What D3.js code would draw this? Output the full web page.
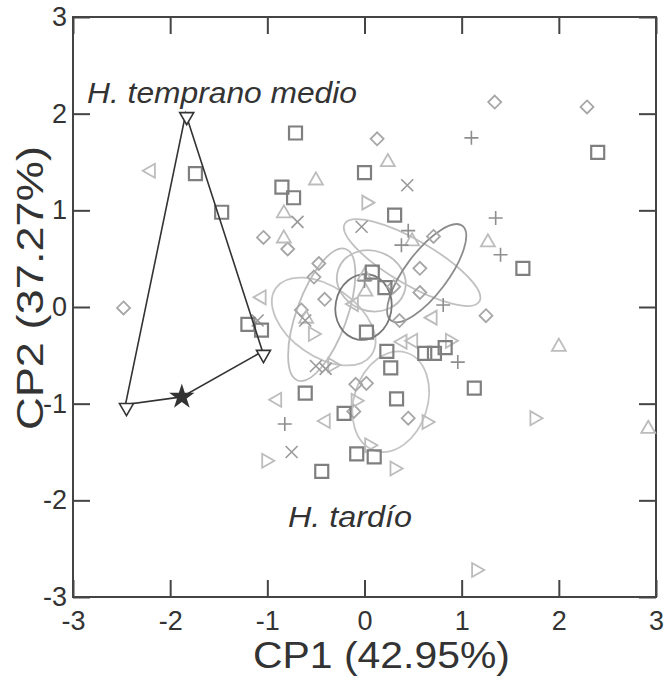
<!DOCTYPE html>
<html>
<head>
<meta charset="utf-8">
<script src="https://cdn.jsdelivr.net/npm/d3@7"></script>
<style>
  body { margin: 0; background: #fff; }
  text { font-family: "Liberation Sans", Arial, sans-serif; fill: #333; }
</style>
</head>
<body>
<div id="chart"></div>
<script>
// point groups, [CP1, CP2]
const squares = [[-0.71,1.80],[-1.74,1.38],[-1.47,0.98],[-0.85,1.24],[-0.73,1.13],[0.0,1.39],
  [0.31,0.95],[2.40,1.60],[1.63,0.40],[0.08,0.36],[0.21,0.20],[-1.20,-0.18],[-1.06,-0.24],
  [0.02,-0.26],[0.23,-0.46],[0.27,-0.63],[0.62,-0.48],[0.72,-0.48],[0.83,-0.42],[1.13,-0.84],
  [0.33,-0.95],[-0.61,-0.89],[-0.21,-1.10],[-0.08,-1.52],[0.10,-1.55],[-0.44,-1.70]];
const diamonds = [[-2.48,-0.01],[1.34,2.12],[2.29,2.07],[0.13,1.74],[-1.04,0.72],[-0.79,0.60],
  [-0.47,0.45],[-0.52,0.31],[-0.41,0.08],[-0.65,-0.03],[0.71,0.73],[0.57,0.40],[0.30,0.21],
  [0.57,0.15],[0.36,-0.14],[1.25,-0.09],[0.02,-0.79],[-0.09,-0.80],[0.45,-1.15],[-0.11,-1.08]];
const upTriangles = [[0.24,1.52],[-0.50,1.33],[-0.83,0.99],[-0.83,0.73],[0.49,0.70],[1.27,0.69],
  [2.0,-0.39],[2.92,-1.24],[0.0,0.34],[0.01,0.18],[-0.60,-0.10]];
const rightTriangles = [[0.04,1.08],[-0.51,-0.28],[0.90,-0.35],[-0.31,-0.60],[-0.07,-0.97],
  [0.66,-1.19],[1.77,-1.15],[-0.99,-1.59],[0.33,-1.67],[0.07,-1.43],[1.17,-2.72]];
const leftTriangles = [[-2.22,1.41],[-1.08,0.10],[-0.13,0.03],[0.68,-0.11],[0.37,-0.36],
  [0.48,-0.35],[-0.92,-0.96],[-0.42,-1.18]];
const plusses = [[1.10,1.75],[1.35,0.92],[1.40,0.54],[0.45,0.79],[0.38,0.64],[0.81,0.02],
  [0.96,-0.57],[-0.82,-1.21],[0.0,0.27]];
const crosses = [[0.44,1.26],[-0.69,0.88],[-0.03,0.83],[-1.10,-0.14],[-0.61,-0.14],
  [-0.50,-0.61],[-0.40,-0.64],[-0.75,-1.50]];

// convex hull of the early-middle group, the star sits on its lower edge
const hull = [[-1.84,2.0],[-1.05,-0.46],[-1.88,-0.93],[-2.46,-1.01]];
const hullTriangles = [[-1.84,2.0],[-1.05,-0.46],[-2.46,-1.01]];
const star = [-1.88,-0.93];

// confidence ellipses: centre, semi axes, tilt in degrees, grey
const ellipses = [
  {cx: -0.42, cy: -0.15, rx: 0.60, ry: 0.36, angle: -35, color: "#c4c4c4"},
  {cx: -0.44, cy: -0.08, rx: 0.72, ry: 0.26, angle: 70, color: "#bdbdbd"},
  {cx: 0.07, cy: 0.27, rx: 0.36, ry: 0.31, angle: -20, color: "#bdbdbd"},
  {cx: 0.49, cy: 0.46, rx: 0.80, ry: 0.23, angle: -30, color: "#c0c0c0"},
  {cx: 0.27, cy: -0.98, rx: 0.53, ry: 0.38, angle: 72, color: "#c4c4c4"},
  {cx: 0.64, cy: 0.35, rx: 0.61, ry: 0.22, angle: 53, color: "#8c8c8c"},
  {cx: -0.01, cy: 0.0, rx: 0.34, ry: 0.29, angle: 80, color: "#777777"}
];

const ticks = [-3, -2, -1, 0, 1, 2, 3];

const width = 666, height = 684;
const margin = {top: 17, right: 10, bottom: 87, left: 73};

const svg = d3.select("#chart").append("svg")
  .attr("width", width)
  .attr("height", height);

const x = d3.scaleLinear().domain([-3, 3]).range([margin.left, width - margin.right]);
const y = d3.scaleLinear().domain([-3, 3]).range([height - margin.bottom, margin.top]);

const tickLen = 17;
const frame = "#444";
const fmt = d => String(d);

// axes with inward ticks, mirrored on top and right
svg.append("g")
  .attr("transform", `translate(0,${y(-3)})`)
  .call(d3.axisBottom(x).tickValues(ticks).tickFormat(fmt).tickSizeInner(-tickLen).tickSizeOuter(0).tickPadding(14))
  .call(g => g.select(".domain").remove())
  .call(g => g.selectAll("line").attr("stroke", frame).attr("stroke-width", 2))
  .call(g => g.selectAll("text").attr("font-size", 27).attr("fill", "#333")
    .attr("font-family", "Liberation Sans, Arial, sans-serif"));

svg.append("g")
  .attr("transform", `translate(0,${y(3)})`)
  .call(d3.axisTop(x).tickValues(ticks).tickSizeInner(-tickLen).tickSizeOuter(0).tickFormat(""))
  .call(g => g.select(".domain").remove())
  .call(g => g.selectAll("line").attr("stroke", frame).attr("stroke-width", 2));

svg.append("g")
  .attr("transform", `translate(${x(-3)},0)`)
  .call(d3.axisLeft(y).tickValues(ticks).tickFormat(fmt).tickSizeInner(-tickLen).tickSizeOuter(0).tickPadding(6))
  .call(g => g.select(".domain").remove())
  .call(g => g.selectAll("line").attr("stroke", frame).attr("stroke-width", 2))
  .call(g => g.selectAll("text").attr("font-size", 27).attr("fill", "#333")
    .attr("font-family", "Liberation Sans, Arial, sans-serif"));

svg.append("g")
  .attr("transform", `translate(${x(3)},0)`)
  .call(d3.axisRight(y).tickValues(ticks).tickSizeInner(-tickLen).tickSizeOuter(0).tickFormat(""))
  .call(g => g.select(".domain").remove())
  .call(g => g.selectAll("line").attr("stroke", frame).attr("stroke-width", 2));

svg.append("rect")
  .attr("x", x(-3))
  .attr("y", y(3))
  .attr("width", x(3) - x(-3))
  .attr("height", y(-3) - y(3))
  .attr("fill", "none")
  .attr("stroke", frame)
  .attr("stroke-width", 2);

// ellipses
const sx = x(1) - x(0), sy = y(0) - y(1);
svg.append("g")
  .selectAll("ellipse")
  .data(ellipses)
  .enter()
  .append("ellipse")
    .attr("transform", d => `translate(${x(d.cx)},${y(d.cy)}) rotate(${-d.angle})`)
    .attr("rx", d => d.rx * sx)
    .attr("ry", d => d.ry * sy)
    .attr("fill", "none")
    .attr("stroke", d => d.color)
    .attr("stroke-width", 1.8);

// marker shapes
function triPath(s, dir) {
  const h = s * 0.87;
  let pts = [[0, -h / 2], [s / 2, h / 2], [-s / 2, h / 2]];
  const rot = {up: 0, right: 90, down: 180, left: 270}[dir] * Math.PI / 180;
  pts = pts.map(([a, b]) => [a * Math.cos(rot) - b * Math.sin(rot), a * Math.sin(rot) + b * Math.cos(rot)]);
  return "M" + pts.map(p => p.join(",")).join("L") + "Z";
}

function drawPoints(data, path, color, sw) {
  svg.append("g")
    .selectAll("path")
    .data(data)
    .enter()
    .append("path")
      .attr("transform", d => `translate(${x(d[0])},${y(d[1])})`)
      .attr("d", path)
      .attr("fill", "none")
      .attr("stroke", color)
      .attr("stroke-width", sw);
}

drawPoints(diamonds, "M0,-6.5L6.5,0L0,6.5L-6.5,0Z", "#a6a6a6", 1.8);
drawPoints(upTriangles, triPath(14, "up"), "#bcbcbc", 1.8);
drawPoints(rightTriangles, triPath(14, "right"), "#bcbcbc", 1.8);
drawPoints(leftTriangles, triPath(14, "left"), "#bcbcbc", 1.8);
drawPoints(plusses, "M-7,0H7M0,-7V7", "#8e8e8e", 1.6);
drawPoints(crosses, "M-6,-6L6,6M-6,6L6,-6", "#999999", 1.6);
drawPoints(squares, "M-6.5,-6.5H6.5V6.5H-6.5Z", "#7f7f7f", 2.2);

// hull
svg.append("path")
  .datum(hull)
  .attr("d", d3.line().x(d => x(d[0])).y(d => y(d[1])).curve(d3.curveLinearClosed))
  .attr("fill", "none")
  .attr("stroke", "#333")
  .attr("stroke-width", 1.6);

svg.append("g")
  .selectAll("path")
  .data(hullTriangles)
  .enter()
  .append("path")
    .attr("transform", d => `translate(${x(d[0]) + 1},${y(d[1]) + 5})`)
    .attr("d", triPath(14, "down"))
    .attr("fill", "#fff")
    .attr("stroke", "#333")
    .attr("stroke-width", 1.6);

svg.append("path")
  .attr("transform", `translate(${x(star[0])},${y(star[1])})`)
  .attr("d", d3.symbol().type(d3.symbolStar).size(200)())
  .attr("fill", "#333");

// group labels
svg.append("text")
  .attr("x", 87)
  .attr("y", 103)
  .attr("font-size", 30)
  .attr("font-style", "italic")
  .attr("textLength", 270)
  .attr("lengthAdjust", "spacingAndGlyphs")
  .text("H. temprano medio");

svg.append("text")
  .attr("x", 288)
  .attr("y", 527)
  .attr("font-size", 30)
  .attr("font-style", "italic")
  .attr("textLength", 124)
  .attr("lengthAdjust", "spacingAndGlyphs")
  .text("H. tardío");

// axis titles
svg.append("text")
  .attr("x", 253)
  .attr("y", 668)
  .attr("font-size", 37)
  .attr("textLength", 257)
  .attr("lengthAdjust", "spacingAndGlyphs")
  .text("CP1 (42.95%)");

svg.append("text")
  .attr("transform", "translate(43,430) rotate(-90)")
  .attr("font-size", 37)
  .attr("textLength", 284)
  .attr("lengthAdjust", "spacingAndGlyphs")
  .text("CP2 (37.27%)");
</script>
</body>
</html>
